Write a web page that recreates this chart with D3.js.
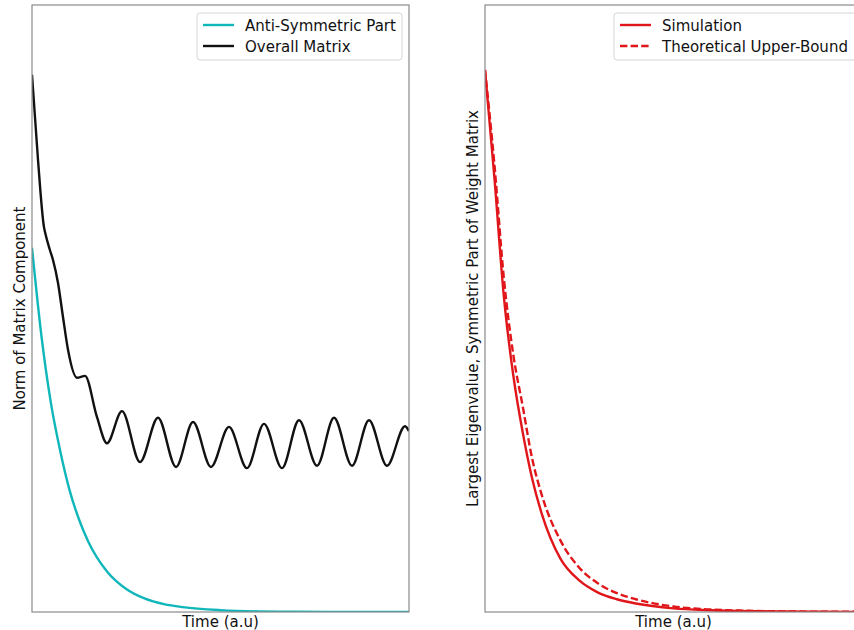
<!DOCTYPE html>
<html>
<head>
<meta charset="utf-8">
<script src="https://cdn.jsdelivr.net/npm/d3@7"></script>
<style>
  body { margin: 0; background: #fff; }
  text { font-family: "DejaVu Sans", sans-serif; }
</style>
</head>
<body>
<svg id="chart" width="854" height="630"></svg>
<script>
// Data (time in a.u., value in a.u.)
const antiT = [0, 0.25, 0.5, 0.75, 1, 1.25, 1.5, 2, 2.5, 3, 3.5, 4, 5, 6, 7, 8, 9, 10];
const antiV = [0.600, 0.455, 0.345, 0.265, 0.200, 0.152, 0.115, 0.066, 0.038, 0.022, 0.013, 0.008, 0.003, 0.001, 0.0005, 0, 0, 0];

const overallT = [0, 0.159, 0.318, 0.345, 0.477, 0.557, 0.69, 0.822, 0.955, 1.194, 1.406, 1.724, 1.989,
  2.387, 2.865, 3.342, 3.820, 4.271, 4.748, 5.225, 5.703, 6.154, 6.631, 7.082, 7.560, 8.011, 8.488, 8.939, 9.416, 9.894, 10];
const overallV = [0.885, 0.745, 0.634, 0.626, 0.596, 0.580, 0.542, 0.486, 0.432, 0.386, 0.389, 0.321, 0.278,
  0.331, 0.247, 0.320, 0.239, 0.313, 0.239, 0.305, 0.237, 0.310, 0.237, 0.316, 0.241, 0.320, 0.241, 0.316, 0.241, 0.306, 0.298];

const eigT = [0, 0.25, 0.5, 0.75, 1, 1.25, 1.5, 2, 2.5, 3, 3.5, 4, 5, 6, 7, 8, 9, 10];
const simV = [0.893, 0.715, 0.520, 0.390, 0.296, 0.220, 0.163, 0.088, 0.052, 0.032, 0.021, 0.014, 0.006, 0.003, 0.0015, 0.0008, 0.0004, 0.0002];
const boundV = [0.893, 0.737, 0.550, 0.424, 0.339, 0.253, 0.194, 0.118, 0.073, 0.047, 0.031, 0.021, 0.009, 0.004, 0.002, 0.001, 0.0005, 0.0003];

const svg = d3.select("#chart");

const panelW = 377, plotTop = 5, plotBottom = 612;
const cyan = "#0fb6ba", red = "#e0161b";
const fontSize = 15, lw = 2.4;

function panel(left, id, series, legendItems, yLabel, labelX) {
  const x = d3.scaleLinear().domain([0, 10]).range([left, left + panelW]);
  const y = d3.scaleLinear().domain([0, 1]).range([plotBottom, plotTop]);

  svg.append("clipPath").attr("id", id)
    .append("rect").attr("x", left).attr("y", plotTop).attr("width", panelW).attr("height", plotBottom - plotTop);

  const g = svg.append("g").attr("clip-path", "url(#" + id + ")");
  const line = d3.line().x(d => x(d[0])).y(d => y(d[1])).curve(d3.curveMonotoneX);

  series.forEach(s => {
    g.append("path")
      .datum(s.t.map((t, i) => [t, s.v[i]]))
      .attr("d", line)
      .attr("fill", "none")
      .attr("stroke", s.color)
      .attr("stroke-width", lw)
      .attr("stroke-dasharray", s.dash || null);
  });

  // frame
  svg.append("rect")
    .attr("x", left).attr("y", plotTop)
    .attr("width", panelW).attr("height", plotBottom - plotTop)
    .attr("fill", "none").attr("stroke", "#8a8a8a").attr("stroke-width", 1.2);

  // x label
  svg.append("text")
    .attr("x", left + panelW / 2).attr("y", 627)
    .attr("text-anchor", "middle").attr("font-size", fontSize).attr("fill", "#111")
    .text("Time (a.u)");

  // y label
  svg.append("text")
    .attr("transform", "translate(" + labelX + "," + ((plotTop + plotBottom) / 2) + ") rotate(-90)")
    .attr("text-anchor", "middle").attr("font-size", fontSize).attr("fill", "#111")
    .text(yLabel);

  // legend
  const lg = legendItems;
  svg.append("rect")
    .attr("x", lg.x).attr("y", 13).attr("width", lg.w).attr("height", 47)
    .attr("rx", 3).attr("fill", "#fff").attr("fill-opacity", 0.85)
    .attr("stroke", "#d6d6d6").attr("stroke-width", 1);
  lg.items.forEach((it, i) => {
    const yy = 25 + i * 21;
    svg.append("line")
      .attr("x1", lg.x + 6).attr("x2", lg.x + 37).attr("y1", yy).attr("y2", yy)
      .attr("stroke", it.color).attr("stroke-width", lw)
      .attr("stroke-dasharray", it.dash || null);
    svg.append("text")
      .attr("x", lg.x + 48).attr("y", yy + 5.5)
      .attr("font-size", fontSize).attr("fill", "#111")
      .text(it.label);
  });
}

panel(32, "clipL",
  [{ t: antiT, v: antiV, color: cyan }, { t: overallT, v: overallV, color: "#111" }],
  { x: 197, w: 205, items: [{ label: "Anti-Symmetric Part", color: cyan }, { label: "Overall Matrix", color: "#111" }] },
  "Norm of Matrix Component", 25);

panel(485, "clipR",
  [{ t: eigT, v: boundV, color: red, dash: "7.4,3.2" }, { t: eigT, v: simV, color: red }],
  { x: 614, w: 250, items: [{ label: "Simulation", color: red }, { label: "Theoretical Upper-Bound", color: red, dash: "7.4,3.2" }] },
  "Largest Eigenvalue, Symmetric Part of Weight Matrix", 478);
</script>
</body>
</html>
